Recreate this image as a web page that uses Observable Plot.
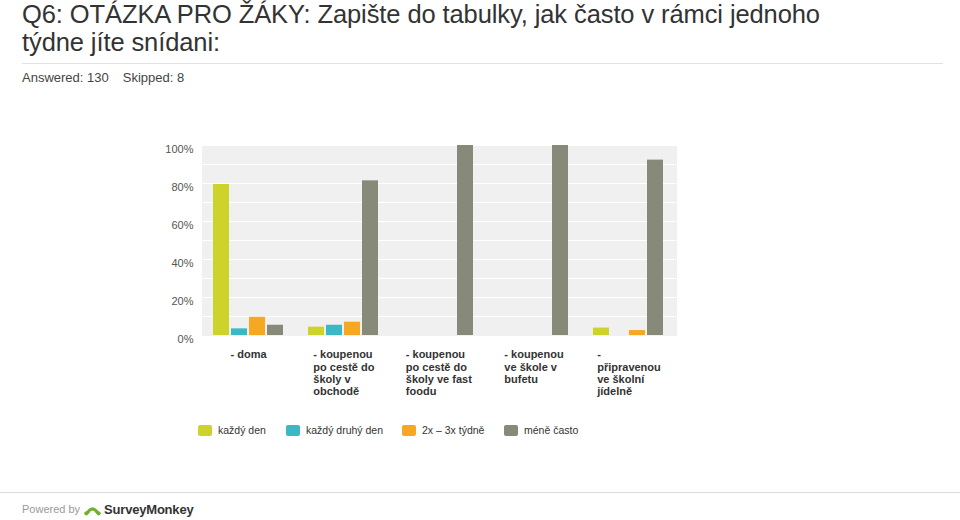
<!DOCTYPE html>
<html><head><meta charset="utf-8">
<script src="https://cdn.jsdelivr.net/npm/d3@7"></script>
<script src="https://cdn.jsdelivr.net/npm/@observablehq/plot@0.6"></script>
<style>
body{margin:0;width:960px;height:520px;position:relative;background:#fff;font-family:Arial,"Liberation Sans",sans-serif;overflow:hidden}
#title{position:absolute;left:22px;top:0px;width:930px;font-size:25.5px;line-height:28px;color:#333;white-space:nowrap;letter-spacing:-0.1px}
#rule{position:absolute;left:22px;top:63px;width:921px;height:1px;background:#e2e2e2}
#stats{position:absolute;left:22px;top:70px;font-size:13px;line-height:15px;color:#444;white-space:nowrap}
#stats span+span{margin-left:14px}
#chart{position:absolute;left:0;top:120px}
#legend{position:absolute;left:198px;top:423px;font-size:10.5px;line-height:14px;color:#333;white-space:nowrap}
#legend .it{position:absolute;top:0;display:flex;align-items:center}
#legend .sw{width:14px;height:11px;border-radius:2px;margin-right:6px}
#foot{position:absolute;left:0;top:492px;width:960px;height:1px;background:#dcdcdc}
#powered{position:absolute;left:22px;top:502px;font-size:11px;line-height:15px;color:#999;display:flex;align-items:center;white-space:nowrap}
#powered svg{margin-left:4px}
#powered .sm{color:#333;font-size:13px;font-weight:bold;margin-left:3px;letter-spacing:-0.2px}
</style></head>
<body>
<div id="title">Q6: OTÁZKA PRO ŽÁKY: Zapište do tabulky, jak často v rámci jednoho<br>týdne jíte snídani:</div>
<div id="rule"></div>
<div id="stats"><span>Answered: 130</span><span>Skipped: 8</span></div>
<div id="chart"></div>
<div id="legend"></div>
<div id="foot"></div>
<div id="powered">Powered by<svg width="17" height="12" viewBox="0 0 18 12"><path d="M1 10 Q9 -4 17 10 L13 10 Q9 3 5 10 Z" fill="#6fb02c"/><circle cx="2.5" cy="9.5" r="2.2" fill="#6fb02c"/><circle cx="15.5" cy="9.5" r="2.2" fill="#6fb02c"/></svg><span class="sm">SurveyMonkey</span></div>
<script>
const categories = ["- doma", "- koupenou po cestě do školy v obchodě", "- koupenou po cestě do školy ve fast foodu", "- koupenou ve škole v bufetu", "- připravenou ve školní jídelně"];
const categoryLabels = ["- doma", "- koupenou\npo cestě do\nškoly v\nobchodě", "- koupenou\npo cestě do\nškoly ve fast\nfoodu", "- koupenou\nve škole v\nbufetu", "-\npřipravenou\nve školní\njídelně"];
const series = ["každý den", "každý druhý den", "2x – 3x týdně", "méně často"];
const colors = ["#cdd32b", "#3ab9c5", "#f6a822", "#888a79"];
const kazdyDen = [79.5, 4.4, 0, 0, 3.9];
const kazdyDruhyDen = [3.5, 5.4, 0, 0, 0];
const dvakratTrikrat = [9.6, 7.0, 0, 0, 2.6];
const meneCasto = [5.4, 81.4, 100, 100, 92.3];
const yTicks = [0, 20, 40, 60, 80, 100];

const seriesValues = [kazdyDen, kazdyDruhyDen, dvakratTrikrat, meneCasto];
const data = [];
series.forEach((s, i) => categories.forEach((c, j) => data.push({cat: c, series: s, value: seriesValues[i][j]})));
const labelOf = new Map(categories.map((c, i) => [c, categoryLabels[i]]));

const plot = Plot.plot({
  width: 960, height: 285,
  marginLeft: 200, marginRight: 284, marginTop: 25, marginBottom: 70,
  style: {fontFamily: "Arial, 'Liberation Sans', sans-serif", fontSize: "11px", background: "transparent", color: "#555"},
  fx: {domain: categories, padding: 0, axis: null, label: null},
  x: {domain: series, paddingInner: 0.105, paddingOuter: 0.56, axis: null},
  y: {domain: [0, 100], axis: null},
  color: {domain: series, range: colors},
  marks: [
    Plot.frame({fill: "#f0f0f0", stroke: null, shapeRendering: "crispEdges"}),
    Plot.gridY(d3.range(10, 101, 10), {stroke: "#ffffff", strokeOpacity: 1, strokeWidth: 1}),
    Plot.barY(data, {fx: "cat", x: "series", y: "value", fill: "series", filter: d => d.value > 0}),
    Plot.axisY({ticks: yTicks, tickFormat: d => d + "%", tickSize: 0, tickPadding: 8, dy: 4, fill: "#555", label: null}),
    Plot.text(categories, {fx: d => d, text: d => labelOf.get(d), frameAnchor: "bottom", lineAnchor: "top", dy: 14, lineHeight: 1.12, fontWeight: "bold", fill: "#333", fontSize: 11})
  ]
});
document.getElementById("chart").append(plot);

// left-align lines within a centered block (like the original labels)
plot.querySelectorAll('g[aria-label="text"] text').forEach(t => {
  const w = t.getBBox().width;
  t.setAttribute("text-anchor", "start");
  t.setAttribute("transform", (t.getAttribute("transform") || "") + ` translate(${-w / 2},0)`);
});

const legend = document.getElementById("legend");
const legendOffsets = [0, 88, 204, 306];
series.forEach((s, i) => {
  const it = document.createElement("div");
  it.className = "it";
  it.style.left = legendOffsets[i] + "px";
  const sw = document.createElement("div");
  sw.className = "sw";
  sw.style.background = colors[i];
  it.append(sw, document.createTextNode(s));
  legend.append(it);
});
</script>
</body></html>
